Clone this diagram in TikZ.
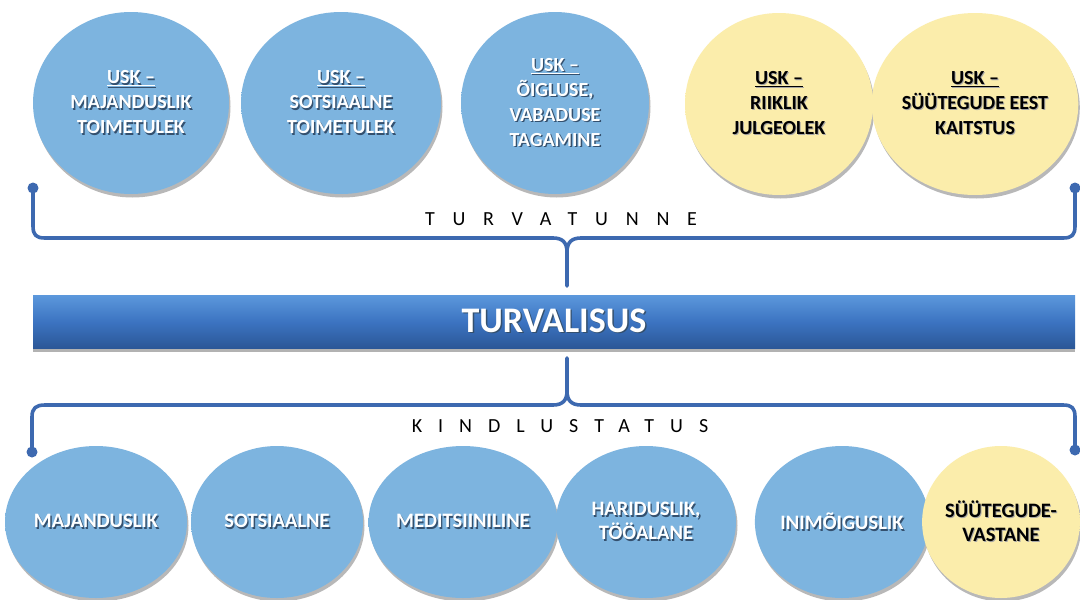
\documentclass[tikz,border=0pt]{standalone}
\usepackage{fontspec}
\setmainfont{Carlito}
\newfontfamily\trackA[LetterSpace=89]{Carlito}
\newfontfamily\trackB[LetterSpace=80]{Carlito}
\usetikzlibrary{shadows,calc,shapes.geometric}
\definecolor{cblue}{HTML}{7DB4DF}
\definecolor{cbluerim}{HTML}{5A92C8}
\definecolor{cyel}{HTML}{FBEDAB}
\definecolor{cyelrim}{HTML}{E6CD78}
\definecolor{brk}{HTML}{3D69B0}
\definecolor{txtsh}{HTML}{34506E}
\definecolor{bartop}{HTML}{5C98DC}
\definecolor{barmid}{HTML}{3C74C2}
\definecolor{barbot}{HTML}{2B5797}
\pgfdeclareradialshading{blueshade}{\pgfpoint{0bp}{0bp}}{color(0bp)=(cblue); color(38bp)=(cblue); color(50bp)=(cbluerim)}
\pgfdeclareradialshading{yelshade}{\pgfpoint{0bp}{0bp}}{color(0bp)=(cyel); color(38bp)=(cyel); color(50bp)=(cyelrim)}
\newcommand\shw[1]{\leavevmode\rlap{\hspace{1.4pt}\raisebox{-1.6pt}{\textcolor{txtsh}{#1}}}#1}
\newcommand\shk[1]{\leavevmode\rlap{\hspace{1pt}\raisebox{-1pt}{\textcolor{black!35}{#1}}}#1}
\tikzset{
  ball/.style={ellipse, inner sep=0pt, align=center,
    drop shadow={shadow xshift=1.5pt, shadow yshift=-3.5pt, opacity=0.28, fill=black}},
  topball/.style={ball, minimum height=182pt, font=\fontsize{20}{25}\selectfont\bfseries},
  lowball/.style={ball, minimum height=152pt, font=\fontsize{20.5}{24}\selectfont\bfseries},
  blueb/.style={shading=blueshade, text=white},
  yelb/.style={shading=yelshade, text=black},
  brace/.style={draw=brk, line width=3.6pt, line cap=round, line join=round},
  dotc/.style={fill=brk},
  barbox/.style={rectangle, inner sep=0pt, minimum width=1042pt, minimum height=53pt,
    top color=bartop, bottom color=barbot, middle color=barmid, text=white,
    font=\fontsize{36}{40}\selectfont\bfseries,
    drop shadow={shadow xshift=0pt, shadow yshift=-4pt, opacity=0.3, fill=black}},
  spaced/.style={inner sep=0pt, text=black}
}
\begin{document}
\begin{tikzpicture}[x=1pt,y=-1pt]
\fill[white] (0,0) rectangle (1080,600);
\useasboundingbox (0,0) rectangle (1080,600);

% top circles
\node[topball, blueb, minimum width=196pt] (t1) at (131,103) {\shw{\underline{USK –}}\\\shw{MAJANDUSLIK}\\\shw{TOIMETULEK}};
\node[topball, blueb, minimum width=200pt] (t2) at (341,103) {\shw{\underline{USK –}}\\\shw{SOTSIAALNE}\\\shw{TOIMETULEK}};
\node[topball, blueb, minimum width=188pt] (t3) at (555,103) {\shw{\underline{USK –}}\\\shw{ÕIGLUSE,}\\\shw{VABADUSE}\\\shw{TAGAMINE}};
\node[topball, yelb, minimum width=188pt] (t4) at (779,104) {\shk{\underline{USK –}}\\\shk{RIIKLIK}\\\shk{JULGEOLEK}};
\node[topball, yelb, minimum width=190pt] (t5) at (975,104) {\shk{\underline{USK –}}\\\shk{SÜÜTEGUDE EEST}\\\shk{KAITSTUS}};

% upper bracket
\coordinate (tl) at (33,188);
\coordinate (tr) at (1075,188);
\coordinate (ttip) at (567,286);
\draw[brace] (tl) -- (33,226) .. controls (33,235) and (36,238) .. (45,238) -- (553,238)
  .. controls (562,238) and (567,242) .. (567,252) -- (ttip);
\draw[brace] (tr) -- (1075,226) .. controls (1075,235) and (1072,238) .. (1063,238) -- (581,238)
  .. controls (572,238) and (567,242) .. (567,252);
\fill[dotc] (tl) circle (5.5pt);
\fill[dotc] (tr) circle (5.5pt);
\node[spaced, font=\fontsize{20}{24}\selectfont\trackA] (turvatunne) at (561,219) {TURVATUNNE};

% bar
\node[barbox] (bar) at (554,321.5) {\shw{TURVALISUS}};

% lower bracket
\coordinate (btip) at (567,358);
\coordinate (bl) at (32,452);
\coordinate (br) at (1075,450);
\draw[brace] (btip) -- (567,391) .. controls (567,400) and (563,405) .. (553,405) -- (45,405)
  .. controls (36,405) and (32,408) .. (32,417) -- (bl);
\draw[brace] (567,391) .. controls (567,400) and (571,405) .. (581,405) -- (1063,405)
  .. controls (1072,405) and (1075,408) .. (1075,417) -- (br);
\fill[dotc] (bl) circle (5.5pt);
\fill[dotc] (br) circle (5.5pt);
\node[spaced, font=\fontsize{20}{24}\selectfont\trackB] (kindlustatus) at (560,426) {KINDLUSTATUS};

% bottom circles
\node[lowball, blueb, minimum width=182pt] (b1) at (96,522) {\shw{MAJANDUSLIK}};
\node[lowball, blueb, minimum width=172pt] (b2) at (277,522) {\shw{SOTSIAALNE}};
\node[lowball, blueb, minimum width=174pt] (b3) at (463,522) {\shw{MEDITSIINILINE}};
\node[lowball, blueb, minimum width=180pt] (b4) at (646,522) {\shw{HARIDUSLIK,}\\\shw{TÖÖALANE}};
\node[lowball, blueb, minimum width=162pt] (b5) at (842,522) {\shw{INIMÕIGUSLIK}};
\node[lowball, yelb, minimum width=154pt] (b6) at (1001,522) {\shk{SÜÜTEGUDE-}\\\shk{VASTANE}};
\end{tikzpicture}
\end{document}
